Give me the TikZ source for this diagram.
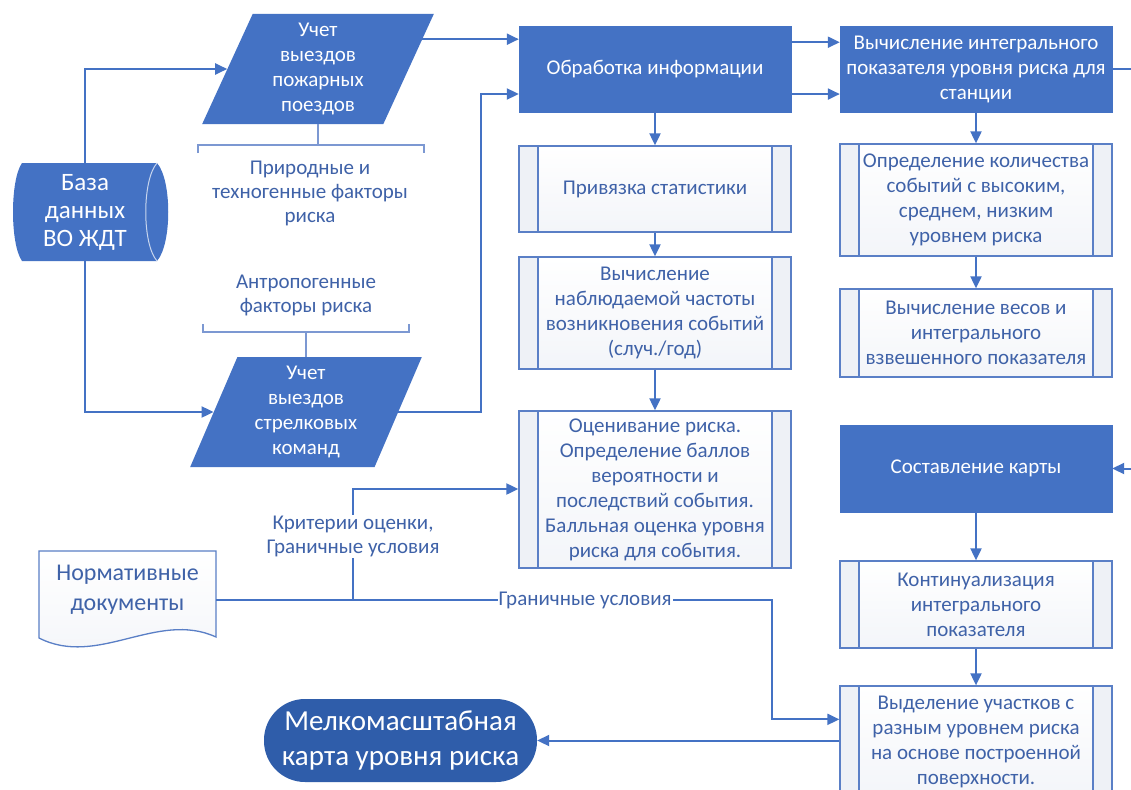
\documentclass[tikz,border=0pt]{standalone}
\usepackage{fontspec}
\setmainfont{Carlito}
\usetikzlibrary{shapes.geometric, arrows.meta, calc}
\definecolor{fillblue}{HTML}{4472C4}
\definecolor{lineblue}{HTML}{4472C4}
\definecolor{txtblue}{HTML}{3F62A8}
\definecolor{termblue}{HTML}{2F5DAA}
\definecolor{stripc}{HTML}{EEF1F6}
\definecolor{subbot}{HTML}{F3F5F9}
\definecolor{subline}{HTML}{5A7FC6}
\definecolor{brkc}{HTML}{7C98D2}
\definecolor{dbarc}{HTML}{C9D6EE}
\newcommand{\myfs}[2]{\fontsize{#1pt}{#2pt}\selectfont}
\begin{document}
\begin{tikzpicture}[x=1pt, y=-1pt,
  arr/.style={draw=lineblue, line width=2pt, -{Triangle[length=12pt,width=11pt]}},
  conn/.style={draw=lineblue, line width=2pt},
  brk/.style={draw=brkc, line width=1.3pt},
  procbox/.style={fill=fillblue, draw=fillblue, minimum width=272pt, text=white, align=center, font=\myfs{21}{25}, inner sep=0pt},
  subbox/.style={draw=subline, line width=1.3pt, top color=white, bottom color=subbot, minimum width=272pt,
    text=txtblue, align=center, font=\myfs{21}{25}, inner sep=0pt,
    path picture={
      \fill[stripc] (path picture bounding box.north west) rectangle ([xshift=19pt]path picture bounding box.south west);
      \fill[stripc] (path picture bounding box.north east) rectangle ([xshift=-19pt]path picture bounding box.south east);
      \draw[subline, line width=1.3pt] ([xshift=19pt]path picture bounding box.north west) -- ([xshift=19pt]path picture bounding box.south west);
      \draw[subline, line width=1.3pt] ([xshift=-19pt]path picture bounding box.north east) -- ([xshift=-19pt]path picture bounding box.south east);
    }},
  para/.style={trapezium, trapezium left angle=69, trapezium right angle=111, trapezium stretches=true,
    fill=fillblue, text=white, align=center, font=\myfs{21}{25}, inner sep=0pt, minimum width=232pt, minimum height=110pt},
  lbl/.style={text=txtblue, align=center, font=\myfs{21}{24}, inner sep=1pt},
  term/.style={fill=termblue, rounded corners=41pt, minimum width=273pt, minimum height=83pt, text=white, align=center, font=\myfs{29}{35}, inner sep=0pt}
]
\path[use as bounding box] (0,0) rectangle (1131,789);
\clip (0,0) rectangle (1131,789);
\fill[white] (0,0) rectangle (1131,789);

% database shape
\fill[fillblue] (22,163) -- (157,163) .. controls (172,180) and (172,244) .. (157,261) -- (22,261) .. controls (10,244) and (10,180) .. (22,163) -- cycle;
\draw[dbarc, line width=1pt] (157,163) .. controls (142,180) and (142,244) .. (157,261);
\node[minimum width=140pt, minimum height=98pt, inner sep=0pt, text=white, align=center, font=\myfs{25}{28}] (db) at (85,212) {База\\данных\\ВО ЖДТ};

% document shape
\path[draw=subline, line width=1.3pt, top color=white, bottom color=subbot] (39,551) -- (216,551) -- (216,637) .. controls (157,610) and (98,668) .. (39,638) -- cycle;
\node[minimum width=177pt, minimum height=87pt, inner sep=0pt, text=txtblue, align=center, font=\myfs{24}{30}] (doc) at (127.5,590) {Нормативные\\документы};

% parallelograms
\node[para] (para1) at (318,69) {Учет\\выездов\\пожарных\\поездов};
\node[para] (para2) at (306,412) {Учет\\выездов\\стрелковых\\команд};

% labels
\node[lbl] (lnat) at (310,193) {Природные и\\техногенные факторы\\риска};
\node[lbl] (lant) at (306,295) {Антропогенные\\факторы риска};
\draw[brk] (para1.south) -- (para1.south |- 0,145);
\draw[brk] (198,153) -- (198,145) -- (424,145) -- (424,153);
\draw[brk] (203,324) -- (203,332) -- (409,332) -- (409,324);
\draw[brk] (para2.north |- 0,332) -- (para2.north);

% left column
\node[procbox, minimum height=86pt] (obr) at (655,69) {Обработка информации};
\node[subbox, minimum height=86pt] (priv) at (655,189) {Привязка статистики};
\node[subbox, minimum height=112pt] (vych) at (655,313) {Вычисление\\наблюдаемой частоты\\возникновения событий\\(случ./год)};
\node[subbox, minimum height=157pt] (ocen) at (655,489.5) {Оценивание риска.\\Определение баллов\\вероятности и\\последствий события.\\Балльная оценка уровня\\риска для события.};

% right column
\node[procbox, minimum height=86pt] (integ) at (976,69) {Вычисление интегрального\\показателя уровня риска для\\станции};
\node[subbox, minimum height=112pt] (opred) at (976,200) {Определение количества\\событий с высоким,\\среднем, низким\\уровнем риска};
\node[subbox, minimum height=88pt] (vesa) at (976,333) {Вычисление весов и\\интегрального\\взвешенного показателя};
\node[procbox, minimum height=87pt] (sost) at (976,468.5) {Составление карты};
\node[subbox, minimum height=87pt] (kont) at (976,604.5) {Континуализация\\интегрального\\показателя};
\node[subbox, minimum height=112pt] (vydel) at (976,742) {Выделение участков с\\разным уровнем риска\\на основе построенной\\поверхности.};

% terminal
\node[term] (term) at (400.5,740.5) {Мелкомасштабная\\карта уровня риска};

% coordinates
\coordinate (jd) at (353,600);
\coordinate (jk) at (353,489);
\coordinate (jg) at (772,600);
\coordinate (ja) at (481,94);
\coordinate (jr) at (1150,300);
\coordinate (p1o) at ($(para1.top right corner)!0.23!(para1.bottom right corner)$);
\coordinate (o1) at ($(obr.north east)!0.19!(obr.south east)$);
\coordinate (o2) at ($(obr.north east)!0.79!(obr.south east)$);
\coordinate (v1) at ($(vydel.north west)!0.3!(vydel.south west)$);

% connectors
\draw[arr] (db.north) |- (para1.left side);
\draw[arr] (db.south) |- (para2.left side);
\draw[arr] (p1o) -- (obr.west |- p1o);
\draw[arr] (para2.right side) -| (ja) -- (obr.west |- ja);
\draw[arr] (o1) -- (integ.west |- o1);
\draw[arr] (o2) -- (integ.west |- o2);
\draw[arr] (obr.south) -- (priv.north);
\draw[arr] (priv.south) -- (vych.north);
\draw[arr] (vych.south) -- (ocen.north);
\draw[arr] (integ.south) -- (opred.north);
\draw[arr] (opred.south) -- (vesa.north);
\draw[arr] (integ.east) -| (jr) |- (sost.east);
\draw[arr] (sost.south) -- (kont.north);
\draw[arr] (kont.south) -- (vydel.north);
\draw[arr] (vydel.west |- term.east) -- (term.east);
\draw[conn] (doc.east |- jd) -- (jd);
\draw[arr] (jd) -- node[lbl, fill=white, pos=0.572] (lkrit) {Критерии оценки,\\Граничные условия} (jk) -- (ocen.west |- jk);
\draw[arr] (jd) -- node[lbl, fill=white, pos=0.554] (lgran) {Граничные условия} (jg) |- (v1);
\end{tikzpicture}
\end{document}
